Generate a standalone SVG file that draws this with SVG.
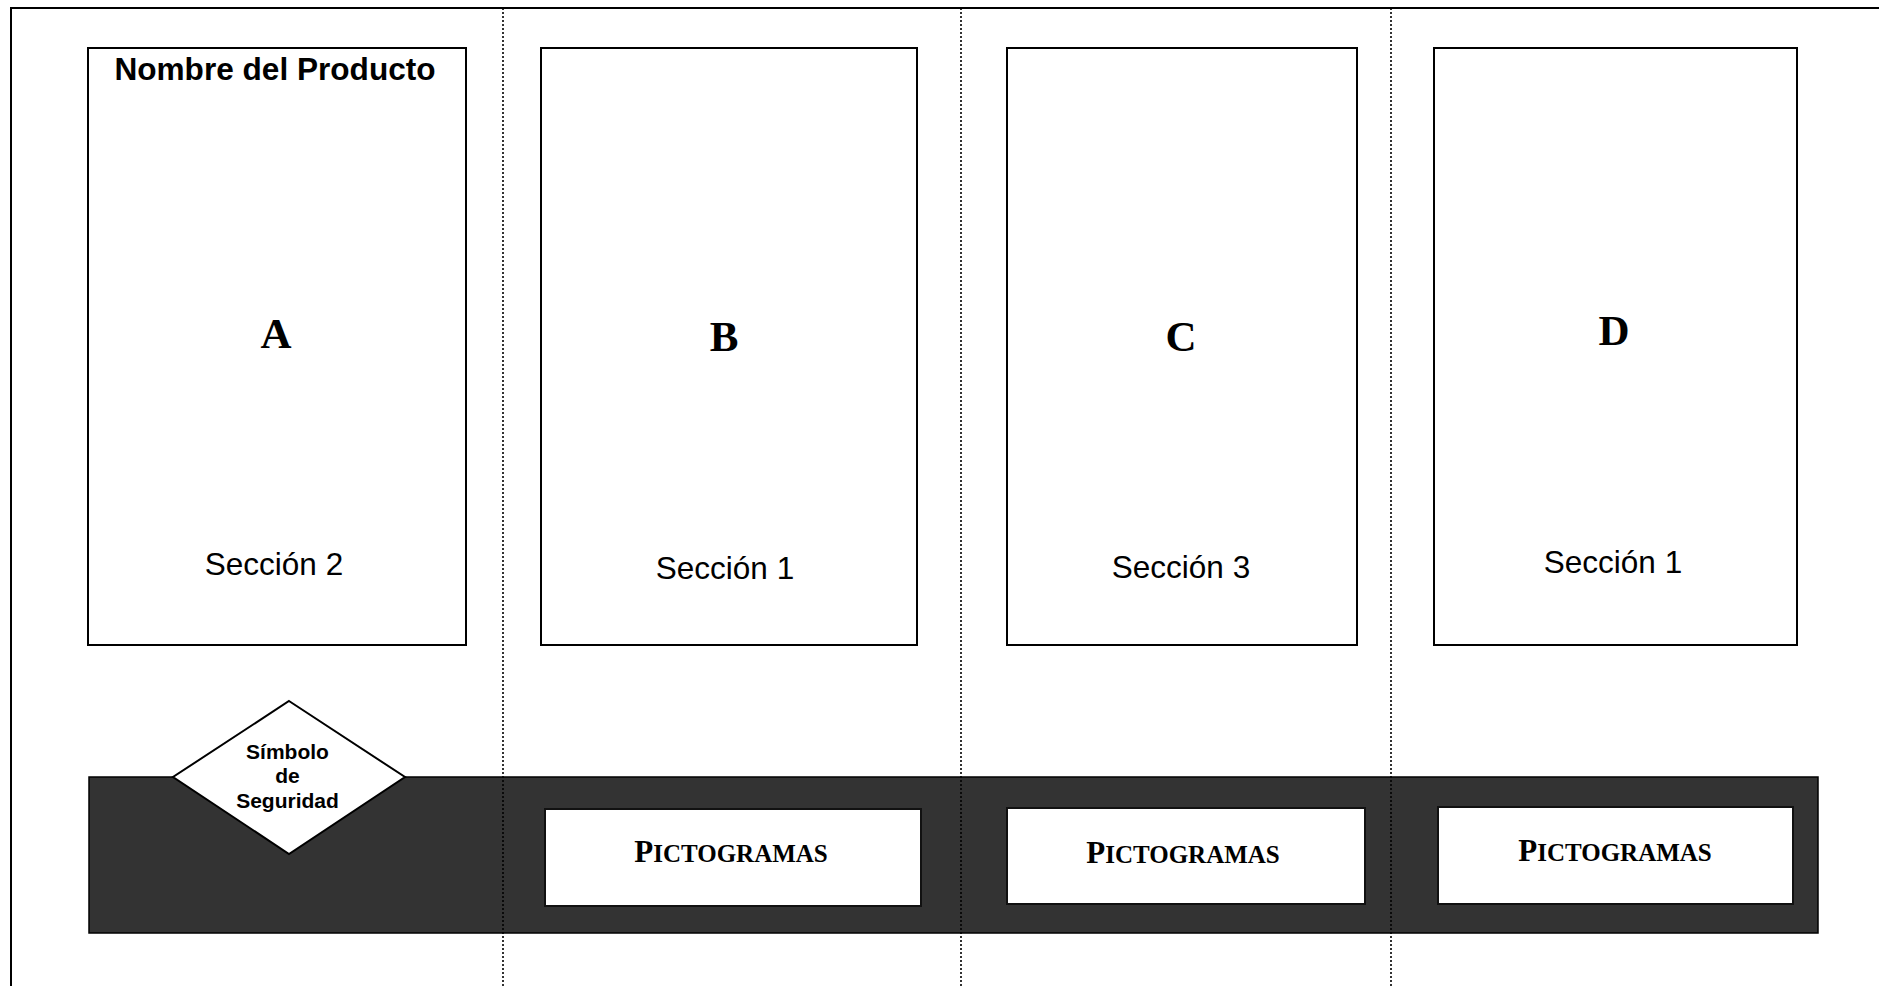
<svg xmlns="http://www.w3.org/2000/svg" width="1879" height="986" viewBox="0 0 1879 986">
<style>
.panel{fill:#fff;stroke:#000;stroke-width:2}
.fold{stroke:#000;stroke-width:1.6;stroke-dasharray:2 2;fill:none}
.sans{font-family:"Liberation Sans",Arial,sans-serif;fill:#000}
.serif{font-family:"Liberation Serif","Times New Roman",serif;font-weight:bold;fill:#000}
.big{font-size:43px}
.sec{font-size:31.5px}
.pic{fill:#fff;stroke:#111;stroke-width:2}
</style>
<rect width="1879" height="986" fill="#fff"/>
<rect id="page" x="11" y="8" width="1900" height="1000" fill="none" stroke="#000" stroke-width="2"/>
<g id="panel-A">
<rect class="panel" x="88" y="48" width="378" height="597"/>
<text class="sans" x="275" y="80" font-size="31.6" font-weight="bold" text-anchor="middle">Nombre del Producto</text>
<text class="serif big" x="276" y="348" text-anchor="middle">A</text>
<text class="sans sec" x="274" y="575" text-anchor="middle">Sección 2</text>
</g>
<g id="panel-B">
<rect class="panel" x="541" y="48" width="376" height="597"/>
<text class="serif big" x="724" y="351" text-anchor="middle">B</text>
<text class="sans sec" x="725" y="579" text-anchor="middle">Sección 1</text>
</g>
<g id="panel-C">
<rect class="panel" x="1007" y="48" width="350" height="597"/>
<text class="serif big" x="1181" y="351" text-anchor="middle">C</text>
<text class="sans sec" x="1181" y="578" text-anchor="middle">Sección 3</text>
</g>
<g id="panel-D">
<rect class="panel" x="1434" y="48" width="363" height="597"/>
<text class="serif big" x="1614" y="345" text-anchor="middle">D</text>
<text class="sans sec" x="1613" y="573" text-anchor="middle">Sección 1</text>
</g>
<g id="band">
<rect x="89" y="777" width="1729" height="156" fill="#333" stroke="#000" stroke-width="1.5"/>
</g>
<g id="pictogramas-B">
<rect class="pic" x="545" y="809" width="376" height="97"/>
<text class="serif" x="731" y="862" text-anchor="middle" font-size="31">P<tspan font-size="25">ICTOGRAMAS</tspan></text>
</g>
<g id="pictogramas-C">
<rect class="pic" x="1007" y="808" width="358" height="96"/>
<text class="serif" x="1183" y="862.5" text-anchor="middle" font-size="31">P<tspan font-size="25">ICTOGRAMAS</tspan></text>
</g>
<g id="pictogramas-D">
<rect class="pic" x="1438" y="807" width="355" height="97"/>
<text class="serif" x="1615" y="861" text-anchor="middle" font-size="31">P<tspan font-size="25">ICTOGRAMAS</tspan></text>
</g>
<g id="simbolo">
<polygon points="289,701 405,777 289,854 173,777" fill="#fff" stroke="#000" stroke-width="2"/>
<text class="sans" font-size="21" font-weight="bold" text-anchor="middle"><tspan x="287.5" y="759">Símbolo</tspan><tspan x="287.5" y="783">de</tspan><tspan x="287.5" y="808">Seguridad</tspan></text>
</g>
<g id="connectors">
<line class="fold" x1="503" y1="8" x2="503" y2="986"/>
<line class="fold" x1="961" y1="8" x2="961" y2="986"/>
<line class="fold" x1="1391" y1="8" x2="1391" y2="986"/>
</g>
</svg>
